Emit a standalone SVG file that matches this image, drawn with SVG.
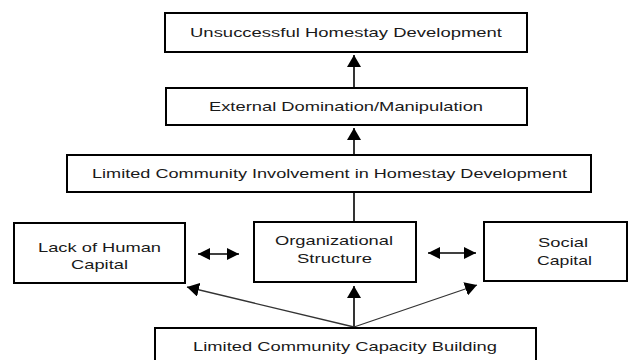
<svg xmlns="http://www.w3.org/2000/svg" width="630" height="360" viewBox="0 0 630 360">
  <defs>
    <style>
      .box { fill: #ffffff; stroke: #000000; stroke-width: 2; }
      .lbl { font-family: "Liberation Sans", Arial, sans-serif; font-size: 13px; fill: #1a1a1a; text-anchor: middle; }
      .conn { stroke: #000000; stroke-width: 1.6; fill: none; }
      .diag { stroke: #333333; stroke-width: 1.3; fill: none; }
    </style>
    <marker id="head" viewBox="0 0 12 14" refX="12" refY="7" markerWidth="12" markerHeight="14" markerUnits="userSpaceOnUse" orient="auto-start-reverse">
      <path d="M0,0 L12,7 L0,14 Z" fill="#000000"/>
    </marker>
    <marker id="headSmall" viewBox="0 0 12 12" refX="12" refY="6" markerWidth="12" markerHeight="12" markerUnits="userSpaceOnUse" orient="auto-start-reverse">
      <path d="M0,0 L12,6 L0,12 Z" fill="#000000"/>
    </marker>
  </defs>

  <rect width="630" height="360" fill="#ffffff"/>

  <g id="connectors">
    <line class="conn" x1="354" y1="87" x2="354" y2="55" marker-end="url(#head)"/>
    <line class="conn" x1="354" y1="154" x2="354" y2="128" marker-end="url(#head)"/>
    <line class="conn" x1="354" y1="221" x2="354" y2="193"/>
    <line class="conn" x1="354" y1="327" x2="354" y2="286" marker-end="url(#head)"/>
    <line class="diag" x1="354" y1="327" x2="187" y2="287" marker-end="url(#head)"/>
    <line class="diag" x1="354" y1="327" x2="477" y2="285" marker-end="url(#head)"/>
    <line class="conn" x1="198" y1="254" x2="239" y2="254" marker-start="url(#headSmall)" marker-end="url(#headSmall)"/>
    <line class="conn" x1="428" y1="253" x2="476" y2="253" marker-start="url(#headSmall)" marker-end="url(#headSmall)"/>
  </g>

  <g id="unsuccessful">
    <rect class="box" x="165" y="13" width="362" height="39"/>
    <text class="lbl" transform="translate(346 37) scale(1.42 1)" textLength="219.7" lengthAdjust="spacingAndGlyphs">Unsuccessful Homestay Development</text>
  </g>

  <g id="external">
    <rect class="box" x="166" y="88" width="361" height="37"/>
    <text class="lbl" transform="translate(346 111) scale(1.42 1)" textLength="193" lengthAdjust="spacingAndGlyphs">External Domination/Manipulation</text>
  </g>

  <g id="involvement">
    <rect class="box" x="67" y="155" width="524" height="37"/>
    <text class="lbl" transform="translate(329.5 177.5) scale(1.42 1)" textLength="334.5" lengthAdjust="spacingAndGlyphs">Limited Community Involvement in Homestay Development</text>
  </g>

  <g id="human-capital">
    <rect class="box" x="14" y="223" width="171" height="60"/>
    <text class="lbl" transform="translate(99.5 252) scale(1.42 1)" textLength="86.6" lengthAdjust="spacingAndGlyphs">Lack of Human</text>
    <text class="lbl" transform="translate(99.5 269) scale(1.42 1)" textLength="40.1" lengthAdjust="spacingAndGlyphs">Capital</text>
  </g>

  <g id="organizational">
    <rect class="box" x="254" y="222" width="162" height="60"/>
    <text class="lbl" transform="translate(334 245) scale(1.42 1)" textLength="83.1" lengthAdjust="spacingAndGlyphs">Organizational</text>
    <text class="lbl" transform="translate(334.5 263) scale(1.42 1)" textLength="52.8" lengthAdjust="spacingAndGlyphs">Structure</text>
  </g>

  <g id="social-capital">
    <rect class="box" x="484" y="222" width="143" height="59"/>
    <text class="lbl" transform="translate(563 247) scale(1.42 1)" textLength="35.2" lengthAdjust="spacingAndGlyphs">Social</text>
    <text class="lbl" transform="translate(564.5 265) scale(1.42 1)" textLength="38.7" lengthAdjust="spacingAndGlyphs">Capital</text>
  </g>

  <g id="capacity-building">
    <rect class="box" x="155" y="328" width="381" height="40"/>
    <text class="lbl" transform="translate(345 351) scale(1.42 1)" textLength="214.1" lengthAdjust="spacingAndGlyphs">Limited Community Capacity Building</text>
  </g>
</svg>
